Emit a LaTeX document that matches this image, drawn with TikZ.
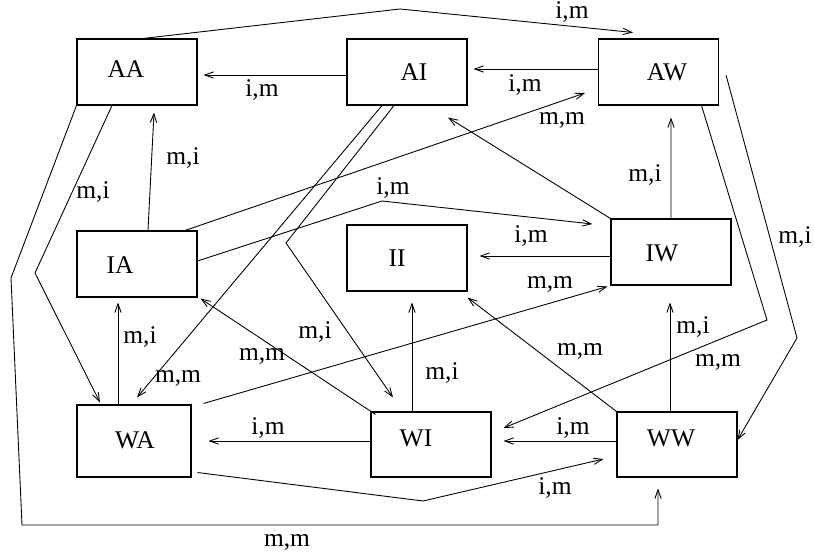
\documentclass[tikz,border=0pt]{standalone}
\usepackage{fontspec}
\setmainfont{Liberation Serif}
\usetikzlibrary{arrows.meta,calc}
\begin{document}
\begin{tikzpicture}[x=0.02cm,y=-0.02cm,font=\fontsize{14.5}{17}\selectfont]

\tikzstyle{block} = [
	draw, rectangle, line width=0.6pt, inner sep=0pt,
	minimum width=2.4cm, minimum height=1.32cm ];
\tikzstyle{plain} = [draw=none,fill=none,inner sep=0pt];
\tikzstyle{edge} = [line width=0.5pt,-{Straight Barb[length=5pt,width=3.6pt]}];
\useasboundingbox (0,0) rectangle (815,560);

\node[block] (aa) at (137,72) {};
\node[block] (ai) at (407,72) {};
\node[block] (aw) at (658.5,72) {};
\node[block] (ia) at (137,264) {};
\node[block] (ii) at (407,258) {};
\node[block] (iw) at (671,252) {};
\node[block,minimum width=2.28cm,minimum height=1.44cm] (wa) at (134,441) {};
\node[block,minimum height=1.3cm] (wi) at (431,444.5) {};
\node[block,minimum height=1.3cm] (ww) at (677,444.5) {};

\node[plain] (aat) at (126,69) {AA};
\node[plain] (ait) at (414,72) {AI};
\node[plain] (awt) at (667,72) {AW};
\node[plain] (iat) at (120,265) {IA};
\node[plain] (iit) at (397,258) {II};
\node[plain] (iwt) at (662,253) {IW};
\node[plain] (wat) at (135,440) {WA};
\node[plain] (wit) at (416,438) {WI};
\node[plain] (wwt) at (671,438) {WW};

% bends
\coordinate (b1) at (400,9);
\coordinate (b2) at (35,273);
\coordinate (b3) at (11,278);
\coordinate (b4) at (22,525);
\coordinate (b5) at (658,525);
\coordinate (b6) at (382,201);
\coordinate (b7) at (286,243);
\coordinate (b8) at (767,320);
\coordinate (b9) at (797,338);
\coordinate (b10) at (423,501);

\draw[edge] ($(aa.north)+(6,0)$) -- (b1) -- ($(aw.north)+(-25.5,-6)$);
\draw[edge] ($(ai.west)+(0,3)$) -- ($(aa.east)+(6,3)$);
\draw[edge] ($(aw.west)+(0,-3)$) -- ($(ai.east)+(6,-3)$);
\draw[edge] ($(ia.north)+(11,0)$) -- ($(aa.south)+(17,7)$);
\draw[edge] ($(aa.south)+(-25,0)$) -- (b2) -- ($(wa.north)+(-34,-2)$);
\draw[edge] (aa.south west) -- (b3) -- (b4) -- (b5) -- ($(ww.south)+(-19,11)$);
\draw[edge] ($(ia.north)+(48,0)$) -- ($(aw.west)+(-13,21)$);
\draw[edge] (iw.north west) -- ($(ai.south)+(41,12)$);
\draw[edge] ($(ia.east)+(0,-3)$) -- (b6) -- ($(iw.west)+(-18,-28)$);
\draw[edge] (iw.north) -- ($(aw.south)+(12.5,12)$);
\draw[edge] ($(iw.west)+(0,4)$) -- ($(ii.east)+(12,-2)$);
\draw[edge] ($(wa.north east)+(12,-1)$) -- ($(iw.south west)+(-3,1)$);
\draw[edge] ($(wa.north)+(-16,0)$) -- ($(ia.south)+(-19,5)$);
\draw[edge] ($(wi.north west)+(5,3)$) -- ($(ia.south east)+(3,1)$);
\draw[edge] ($(ai.south)+(-25,0)$) -- ($(wa.north)+(3,-7)$);
\draw[edge] ($(ai.south)+(-13,0)$) -- (b7) -- ($(wi.north)+(-38,-14)$);
\draw[edge] ($(wi.north)+(-19,0)$) -- ($(ii.south)+(5,11)$);
\draw[edge] (ww.north west) -- ($(ii.south east)+(0,6)$);
\draw[edge] ($(ww.north)+(-7,0)$) -- ($(iw.south)+(-1,17)$);
\draw[edge] ($(aw.south)+(43,0)$) -- (b8) -- ($(wi.east)+(12,-16.5)$);
\draw[edge] ($(aw.east)+(7,3)$) -- (b9) -- ($(ww.east)+(0,-4.5)$);
\draw[edge] ($(wi.west)+(0,-3.5)$) -- ($(wa.east)+(17,0)$);
\draw[edge] ($(ww.west)+(0,-3.5)$) -- ($(wi.east)+(12,-3.5)$);
\draw[edge] ($(wa.south east)+(6,-5)$) -- (b10) -- ($(ww.west)+(-13,14.5)$);

\node[plain] (l1) at (572,12) {i,m};
\node[plain] (l2) at (262,90) {i,m};
\node[plain] (l3) at (525,85) {i,m};
\node[plain] (l4) at (183,158) {m,i};
\node[plain] (l5) at (93,192) {m,i};
\node[plain] (l6) at (287,542) {m,m};
\node[plain] (l7) at (562,120) {m,m};
\node[plain] (l8) at (393,188) {i,m};
\node[plain] (l9) at (645,175) {m,i};
\node[plain] (l10) at (531,236) {i,m};
\node[plain] (l11) at (550,284) {m,m};
\node[plain] (l12) at (140,337) {m,i};
\node[plain] (l13) at (262,356) {m,m};
\node[plain] (l14) at (178,378) {m,m};
\node[plain] (l15) at (315,332) {m,i};
\node[plain] (l16) at (442,373) {m,i};
\node[plain] (l17) at (580,351) {m,m};
\node[plain] (l18) at (693,327) {m,i};
\node[plain] (l19) at (718,362) {m,m};
\node[plain] (l20) at (795,237) {m,i};
\node[plain] (l21) at (268,428) {i,m};
\node[plain] (l22) at (573,428) {i,m};
\node[plain] (l23) at (555,488) {i,m};

\end{tikzpicture}
\end{document}
